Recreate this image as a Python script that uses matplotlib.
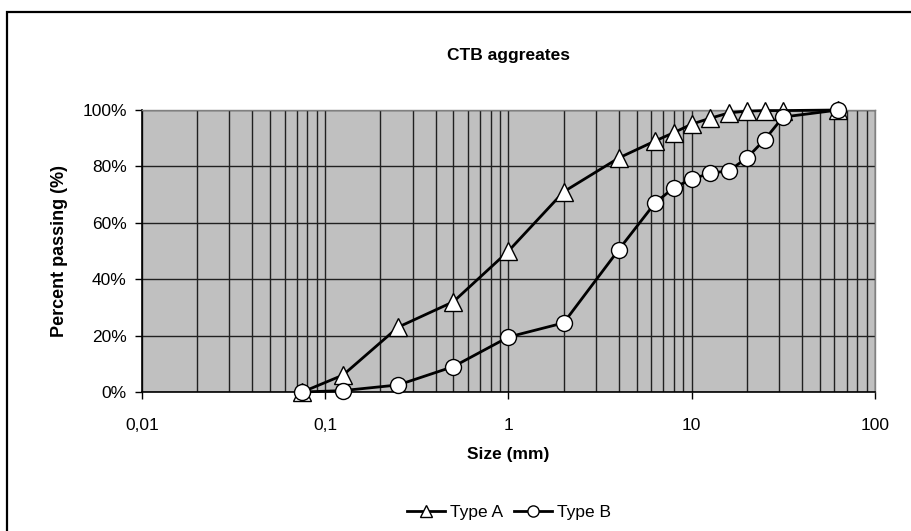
import numpy as np
import matplotlib.pyplot as plt
from matplotlib.patches import Rectangle
from matplotlib.ticker import FixedLocator, FuncFormatter, LogLocator, NullFormatter

plt.rcParams['font.family'] = ['Liberation Sans', 'DejaVu Sans']

# Sieve sizes (mm) and cumulative passing (%)
size_mm = [0.075, 0.125, 0.25, 0.5, 1, 2, 4, 6.3, 8, 10, 12.5, 16, 20, 25, 31.5, 63]
type_a = [0, 6, 23, 32, 50, 71, 83, 89, 92, 95, 97, 99, 99.6, 99.8, 99.8, 100]
type_b = [0, 0.5, 2.5, 9, 19.5, 24.5, 50.5, 67, 72.5, 75.5, 77.5, 78.5, 83, 89.5, 97.5, 100]

xtick_vals = [0.01, 0.1, 1, 10, 100]
xtick_text = ['0,01', '0,1', '1', '10', '100']
ytick_vals = [0, 20, 40, 60, 80, 100]

fig = plt.figure(figsize=(9.12, 5.31), dpi=100)
ax = fig.add_axes([142 / 912, 1 - 392 / 531, (875 - 142) / 912, (392 - 110) / 531])

# outer chart frame, running off the right and bottom edges
fig.patches.append(Rectangle((7 / 912, -0.2), 1.2, 1.2 - 12 / 531,
                             transform=fig.transFigure, fill=False,
                             edgecolor='black', linewidth=1.6))

ax.set_facecolor('#C0C0C0')
ax.set_xscale('log')
ax.set_xlim(0.01, 100)
ax.set_ylim(0, 100)

# gridlines at every step of each decade
ax.xaxis.set_major_locator(FixedLocator(xtick_vals))
ax.xaxis.set_minor_locator(LogLocator(base=10, subs=np.arange(2, 10)))
ax.xaxis.set_minor_formatter(NullFormatter())
ax.xaxis.set_major_formatter(FuncFormatter(lambda v, p: xtick_text[xtick_vals.index(v)] if v in xtick_vals else ''))
ax.yaxis.set_major_locator(FixedLocator(ytick_vals))
ax.yaxis.set_major_formatter(FuncFormatter(lambda v, p: '%d%%' % v))
ax.grid(True, which='major', axis='both', color='#202020', linewidth=1.0)
ax.grid(True, which='minor', axis='x', color='#202020', linewidth=1.0)
ax.set_axisbelow(True)

ax.tick_params(axis='x', which='major', direction='out', length=5, width=1, pad=14, labelsize=12.5)
ax.tick_params(axis='x', which='minor', length=0)
ax.tick_params(axis='y', which='major', direction='out', length=5, width=1, pad=6, labelsize=12.5)

for side in ['top', 'right']:
    ax.spines[side].set_color('#808080')
    ax.spines[side].set_linewidth(1.0)
for side in ['left', 'bottom']:
    ax.spines[side].set_color('black')
    ax.spines[side].set_linewidth(1.2)

ax.plot(size_mm, type_a, color='black', linewidth=2, marker='^', markersize=13,
        markerfacecolor='white', markeredgecolor='black', markeredgewidth=1,
        label='Type A', clip_on=False, zorder=3)
ax.plot(size_mm, type_b, color='black', linewidth=2, marker='o', markersize=11.5,
        markerfacecolor='white', markeredgecolor='black', markeredgewidth=1,
        label='Type B', clip_on=False, zorder=4)

ax.set_title('CTB aggreates', fontsize=12.5, fontweight='bold', pad=36)
ax.set_xlabel('Size (mm)', fontsize=12.5, fontweight='bold', labelpad=10)
ax.set_ylabel('Percent passing (%)', fontsize=13, fontweight='bold', labelpad=10)

fig.legend(loc='center', bbox_to_anchor=(509 / 912, 1 - 512 / 531), ncol=2,
           frameon=False, fontsize=12.5, handlelength=2.2, handletextpad=0.3,
           columnspacing=0.6, markerscale=0.7)

fig.savefig('out.png', dpi=100)
